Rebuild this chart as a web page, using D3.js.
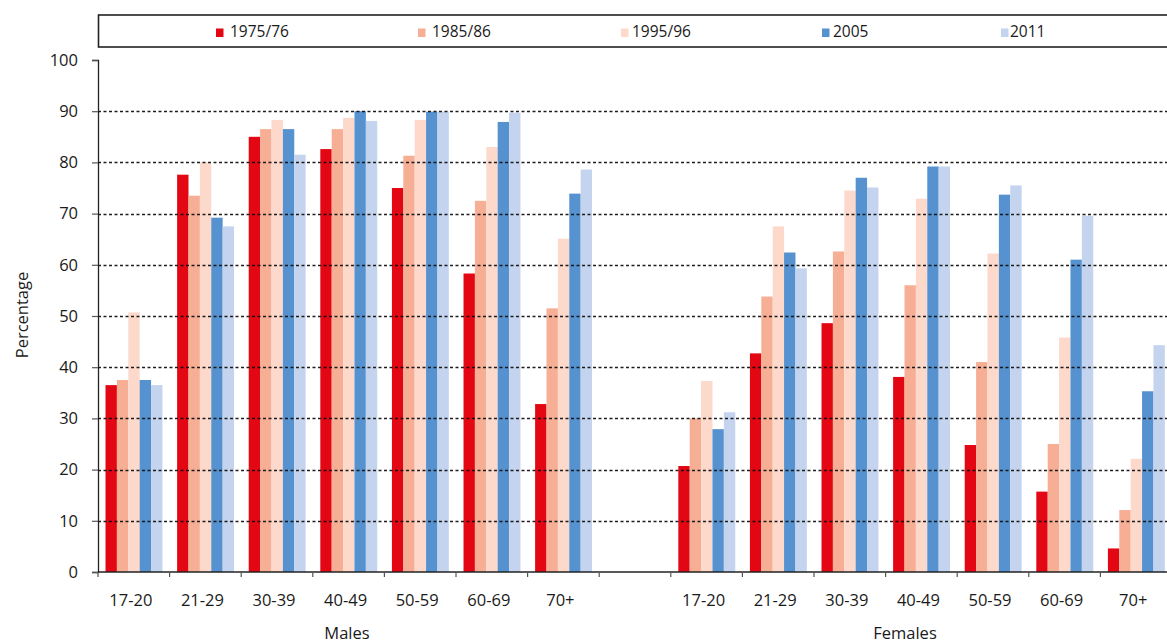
<!DOCTYPE html>
<html>
<head>
<meta charset="utf-8">
<script src="https://cdn.jsdelivr.net/npm/d3@7"></script>
<style>
  html, body { margin: 0; padding: 0; background: #fff; }
  svg { display: block; font-family: "Open Sans", "Noto Sans", sans-serif; }
</style>
</head>
<body>
<svg id="chart" width="1167" height="643"></svg>
<script>
// ---- data ----
const ageGroups = ["17-20", "21-29", "30-39", "40-49", "50-59", "60-69", "70+"];
const sexes = ["Males", "Females"];
const years = ["1975/76", "1985/86", "1995/96", "2005", "2011"];
const yTicks = [0, 10, 20, 30, 40, 50, 60, 70, 80, 90, 100];

const males1975 = [36.5, 77.6, 85.0, 82.6, 75.0, 58.3, 32.8];
const males1985 = [37.5, 73.5, 86.5, 86.5, 81.3, 72.5, 51.5];
const males1995 = [50.7, 80.0, 88.3, 88.7, 88.3, 83.0, 65.1];
const males2005 = [37.5, 69.2, 86.5, 90.0, 89.9, 87.9, 73.9];
const males2011 = [36.5, 67.5, 81.5, 88.1, 89.9, 89.7, 78.6];

const females1975 = [20.7, 42.7, 48.6, 38.1, 24.8, 15.7, 4.6];
const females1985 = [30.0, 53.8, 62.6, 56.0, 41.0, 25.0, 12.1];
const females1995 = [37.3, 67.5, 74.5, 72.9, 62.2, 45.8, 22.1];
const females2005 = [27.9, 62.4, 77.0, 79.2, 73.7, 61.0, 35.3];
const females2011 = [31.2, 59.3, 75.1, 79.2, 75.5, 69.6, 44.3];

const colors = ["#E30613", "#F6AE94", "#FDD9CC", "#5592CF", "#C4D4EE"];

// ---- build table ----
const seriesBySex = {
  Males: [males1975, males1985, males1995, males2005, males2011],
  Females: [females1975, females1985, females1995, females2005, females2011]
};
const keys = [];
ageGroups.forEach(a => keys.push("Males|" + a));
keys.push("gap");
ageGroups.forEach(a => keys.push("Females|" + a));

const rows = [];
sexes.forEach(s => {
  ageGroups.forEach((a, i) => {
    years.forEach((yr, j) => {
      rows.push({ key: s + "|" + a, year: yr, value: seriesBySex[s][j][i], color: colors[j] });
    });
  });
});

// ---- layout ----
const svg = d3.select("#chart");
const mLeft = 98, mRight = 1172, mTop = 60, mBottom = 572;
const textColor = "#1a1a1a";

const x0 = d3.scaleBand().domain(keys).range([mLeft, mRight]).padding(0);
const x1 = d3.scaleBand().domain(years)
  .range([x0.bandwidth() * 0.105, x0.bandwidth() * 0.9]).padding(0);
const y = d3.scaleLinear().domain([0, 100]).range([mBottom, mTop]);

// bars
svg.append("g").selectAll("rect").data(rows).join("rect")
  .attr("x", d => x0(d.key) + x1(d.year))
  .attr("y", d => y(d.value))
  .attr("width", x1.bandwidth())
  .attr("height", d => y(0) - y(d.value))
  .attr("fill", d => d.color);

// gridlines (drawn over bars)
svg.append("g").selectAll("line").data(yTicks.filter(t => t > 0 && t < 100)).join("line")
  .attr("x1", mLeft).attr("x2", 1167)
  .attr("y1", d => Math.round(y(d)) + 0.5).attr("y2", d => Math.round(y(d)) + 0.5)
  .attr("stroke", "#111").attr("stroke-opacity", 0.95)
  .attr("stroke-width", 1.3).attr("stroke-dasharray", "3,2.5");

// y axis
const yAxis = svg.append("g").attr("transform", `translate(${mLeft},0)`)
  .call(d3.axisLeft(y).tickValues(yTicks).tickSize(6).tickPadding(14));
yAxis.select(".domain").attr("stroke", "#222").attr("stroke-width", 1.3);
yAxis.selectAll(".tick line").attr("stroke", "#555").attr("stroke-width", 1.2);
yAxis.selectAll(".tick text").attr("font-size", 16.5).attr("fill", textColor)
  .attr("font-family", "Open Sans");

// x axis line
svg.append("line").attr("x1", mLeft).attr("x2", 1167)
  .attr("y1", y(0)).attr("y2", y(0))
  .attr("stroke", "#222").attr("stroke-width", 1.5);
// x ticks at band boundaries
svg.append("g").selectAll("line").data(keys).join("line")
  .attr("x1", d => x0(d)).attr("x2", d => x0(d))
  .attr("y1", y(0)).attr("y2", y(0) + 5)
  .attr("stroke", "#555").attr("stroke-width", 1.2);
// x labels
svg.append("g").selectAll("text").data(keys.filter(k => k !== "gap")).join("text")
  .attr("x", d => x0(d) + x0.bandwidth() / 2 - 3)
  .attr("y", 606)
  .attr("text-anchor", "middle")
  .attr("font-size", 16.5).attr("fill", textColor)
  .text(d => d.split("|")[1]);

// group titles
svg.append("text").attr("x", 347).attr("y", 639).attr("text-anchor", "middle")
  .attr("font-size", 16.5).attr("fill", textColor).text(sexes[0]);
svg.append("text").attr("x", 905).attr("y", 639).attr("text-anchor", "middle")
  .attr("font-size", 16.5).attr("fill", textColor).text(sexes[1]);

// y title
svg.append("text").attr("transform", "translate(28,315) rotate(-90)")
  .attr("text-anchor", "middle").attr("font-size", 16.5).attr("fill", textColor)
  .text("Percentage");

// legend
svg.append("rect").attr("x", 98.5).attr("y", 15).attr("width", 1080).attr("height", 32)
  .attr("fill", "#fff").attr("stroke", "#222").attr("stroke-width", 1.6);
const legendX = [216, 418, 621, 822, 1001];
const lg = svg.append("g").selectAll("g").data(years).join("g")
  .attr("transform", (d, i) => `translate(${legendX[i]},0)`);
lg.append("rect").attr("x", 0).attr("y", 28.5).attr("width", 7.5).attr("height", 8.5)
  .attr("fill", (d, i) => colors[i]);
lg.append("text").attr("x", (d, i) => i < 2 ? 14 : (i < 4 ? 11 : 9)).attr("y", 37)
  .attr("font-size", 15.5).attr("fill", textColor).text(d => d);
</script>
</body>
</html>
